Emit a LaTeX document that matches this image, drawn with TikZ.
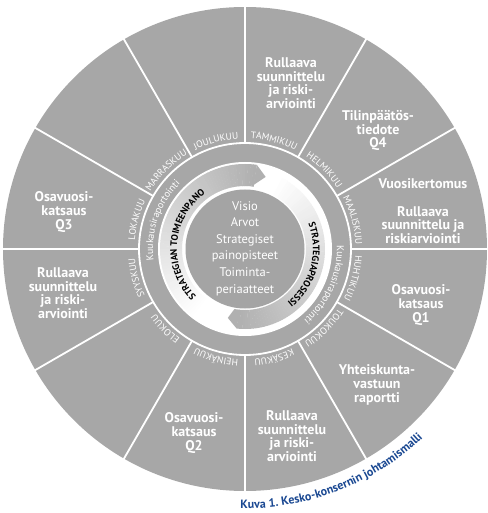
\documentclass[tikz,border=0pt]{standalone}
\usepackage{fontspec}
\setmainfont{PT Sans}
\usetikzlibrary{decorations.text}
\definecolor{seggray}{RGB}{167,167,167}
\definecolor{discgray}{RGB}{164,164,164}
\definecolor{arrowgray}{RGB}{176,176,176}
\definecolor{capblue}{RGB}{26,72,146}
\begin{document}
\begin{tikzpicture}[x=1pt,y=1pt,
  sepline/.style={white, line width=1.8pt},
  segtext/.style={text=white, align=center, font=\fontsize{14}{13.6}\selectfont\bfseries, inner sep=0pt},
  coretext/.style={text=white, align=center, font=\fontsize{12.5}{16.6}\selectfont, inner sep=0pt},
  monthlbl/.style={decorate, decoration={text along path, text align=center, text color=white, text={|\fontsize{9.5}{10}\selectfont|#1}}},
  reportlbl/.style={decorate, decoration={text along path, text align=center, text color=white, text={|\fontsize{10}{11}\selectfont|#1}}},
  stratlbl/.style={decorate, decoration={text along path, text align=center, text color=black, text={|\fontsize{9.5}{10}\selectfont\bfseries|#1}}},
  captionlbl/.style={decorate, decoration={text along path, text align=left, text color=capblue, text={|\fontsize{12}{13}\selectfont\bfseries|#1}}},
]
\useasboundingbox (-245pt,-264pt) rectangle (242pt,249pt);
\fill[white] (-245pt,-264pt) rectangle (242pt,249pt);

% outer wheel
\fill[seggray] (0,0) circle[radius=242pt];
\foreach \a in {0,30,...,330}{
  \draw[sepline] (\a:106pt) -- (\a:244pt);
}
\draw[white, line width=1.8pt] (0,0) circle[radius=106pt];

% white ring of the strategy cycle
\fill[white] (0,0) circle[radius=87pt];

% top arrow body (fades to white towards tail)
\foreach \t in {82,84,...,250}{
  \pgfmathtruncatemacro\p{max(0,100-(\t-82)/1.5)}
  \fill[arrowgray!\p!white] (\t:63pt) arc[start angle=\t, end angle=\t+2.3, radius=63pt]
     -- ({\t+2.3}:85pt) arc[start angle=\t+2.3, end angle=\t, radius=85pt] -- cycle;
}
% bottom arrow body
\foreach \t in {-96,-94,...,60}{
  \pgfmathtruncatemacro\p{max(0,100-(\t+96)/1.6)}
  \fill[arrowgray!\p!white] (\t:61pt) arc[start angle=\t, end angle=\t+2.3, radius=61pt]
     -- ({\t+2.3}:80pt) arc[start angle=\t+2.3, end angle=\t, radius=80pt] -- cycle;
}
% arrow tips
\fill[arrowgray] (82:85pt) -- (74:75pt) -- (84:63pt) -- (82.5:63pt) -- cycle;
\fill[arrowgray] (-96:80pt) -- (-104:71pt) -- (-100:61pt) -- (-95:61pt) -- cycle;

% central disc
\fill[discgray] (0,0) circle[radius=59.5pt];

% month labels
\path[monthlbl={TAMMIKUU}]  (100:110.5pt) arc[start angle=100, end angle=50, radius=110.5pt];
\path[monthlbl={HELMIKUU}]  (70:110.5pt) arc[start angle=70, end angle=20, radius=110.5pt];
\path[monthlbl={MAALISKUU}] (40:110.5pt) arc[start angle=40, end angle=-10, radius=110.5pt];
\path[monthlbl={HUHTIKUU}]  (10:110.5pt) arc[start angle=10, end angle=-40, radius=110.5pt];
\path[monthlbl={TOUKOKUU}]  (-20:110.5pt) arc[start angle=-20, end angle=-70, radius=110.5pt];
\path[monthlbl={KESÄKUU}]   (-50:110.5pt) arc[start angle=-50, end angle=-100, radius=110.5pt];
\path[monthlbl={HEINÄKUU}]  (-80:110.5pt) arc[start angle=-80, end angle=-130, radius=110.5pt];
\path[monthlbl={ELOKUU}]    (-110:110.5pt) arc[start angle=-110, end angle=-160, radius=110.5pt];
\path[monthlbl={SYYSKUU}]   (-140:110.5pt) arc[start angle=-140, end angle=-190, radius=110.5pt];
\path[monthlbl={LOKAKUU}]   (190:110.5pt) arc[start angle=190, end angle=140, radius=110.5pt];
\path[monthlbl={MARRASKUU}] (160:110.5pt) arc[start angle=160, end angle=110, radius=110.5pt];
\path[monthlbl={JOULUKUU}]  (130:110.5pt) arc[start angle=130, end angle=80, radius=110.5pt];

% monthly reporting labels
\path[reportlbl={Kuukausiraportointi}] (211:92pt) arc[start angle=211, end angle=111, radius=92pt];
\path[reportlbl={Kuukausiraportointi}] (26:92pt) arc[start angle=26, end angle=-74, radius=92pt];

% strategy cycle labels
\path[stratlbl={STRATEGIAN TOIMEENPANO}] (245:68pt) arc[start angle=245, end angle=105, radius=68pt];
\path[stratlbl={STRATEGIAPROSESSI}] (55:68pt) arc[start angle=55, end angle=-85, radius=68pt];

% segment texts
\node[segtext] (tammi) at (46,166) {Rullaava\\suunnittelu\\ja riski-\\arviointi};
\node[segtext] (helmi) at (133,118.5) {Tilinpäätös-\\tiedote\\Q4};
\node[segtext] (maalisA) at (178,65) {Vuosikertomus};
\node[segtext] (maalisB) at (178,24) {Rullaava\\suunnittelu ja\\riskiarviointi};
\node[segtext] (huhti) at (176,-56) {Osavuosi-\\katsaus\\Q1};
\node[segtext] (touko) at (132,-136) {Yhteiskunta-\\vastuun\\raportti};
\node[segtext] (kesa) at (47,-187) {Rullaava\\suunnittelu\\ja riski-\\arviointi};
\node[segtext] (heina) at (-51,-184) {Osavuosi-\\katsaus\\Q2};
\node[segtext] (syys) at (-182,-44) {Rullaava\\suunnittelu\\ja riski-\\arviointi};
\node[segtext] (loka) at (-181,37) {Osavuosi-\\katsaus\\Q3};

% core text
\node[coretext] (core) at (0,0.5) {Visio\\Arvot\\Strategiset\\painopisteet\\Toiminta-\\periaatteet};

% caption
\path[captionlbl={Kuva 1. Kesko-konsernin johtamismalli}] (-91:259.5pt) arc[start angle=-91, end angle=0, radius=259.5pt];
\end{tikzpicture}
\end{document}
